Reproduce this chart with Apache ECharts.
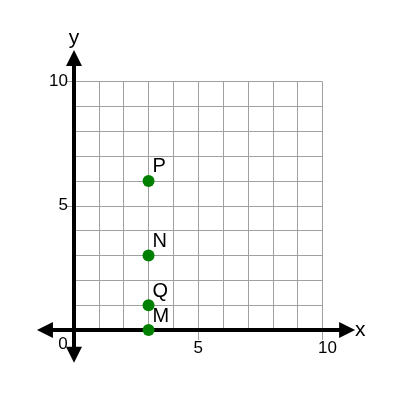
<!DOCTYPE html>
<html lang="en">
<head>
	<meta charset="UTF-8">
	<title>points</title>
	<style>
		html, body { margin: 0; padding: 0; background: #fff; }
	</style>
</head>
<body>
	<div id="main" style="width: 400px;height: 400px"></div>
	<script src="https://cdn.jsdelivr.net/npm/echarts@6/dist/echarts.min.js"></script>
	<script>
		// points on the plane
		var pointNames = ['P', 'N', 'Q', 'M'];
		var pointX = [3, 3, 3, 3];
		var pointY = [6, 3, 1, 0];
		// tick labels shown on both axes
		var labelTicks = [0, 5, 10];
		var axisRange = [0, 10];

		// layout: pixel position of the origin and size of one unit
		var unit = 24.85;
		var ox = 74, oy = 330;
		var arrowLo = -1.17, arrowHiX = 10.99, arrowLoY = -1.0, arrowHiY = 10.95;

		var font = 'Liberation Sans';

		var scatterData = pointNames.map(function (n, i) {
			return { name: n, value: [pointX[i], pointY[i]] };
		});

		function tickLabel(v) {
			if (labelTicks.indexOf(v) < 0) return '';
			if (v === 0) return '{z|0}';
			if (v === 10) return '{t|10}';
			return String(v);
		}

		var myChart = echarts.init(document.getElementById('main'));
		var option = {
			animation: false,
			grid: [
				{ // lattice
					left: ox, top: oy - axisRange[1] * unit,
					width: axisRange[1] * unit, height: axisRange[1] * unit
				},
				{ // black arrowed axes
					left: ox + arrowLo * unit, top: oy - arrowHiY * unit,
					width: (arrowHiX - arrowLo) * unit, height: (arrowHiY - arrowLoY) * unit
				}
			],
			xAxis: [
				{
					gridIndex: 0, type: 'value', position: 'top',
					min: axisRange[0], max: axisRange[1], interval: 1,
					axisLine: { show: false }, axisTick: { show: false }, axisLabel: { show: false },
					splitLine: { lineStyle: { color: '#a0a0a0', width: 1 } }
				},
				{
					gridIndex: 0, type: 'value', position: 'bottom',
					min: axisRange[0], max: axisRange[1], interval: 5,
					axisLine: { show: false },
					axisTick: { show: true, length: 10, lineStyle: { color: '#a0a0a0' } },
					splitLine: { show: false },
					axisLabel: {
						margin: 10, color: '#000', fontFamily: font, fontSize: 17,
						formatter: tickLabel,
						rich: {
							z: { fontFamily: font, fontSize: 17, color: '#000', lineHeight: 9, padding: [0, 22, 0, 0] },
							t: { fontFamily: font, fontSize: 17, color: '#000', padding: [0, 0, 0, 10] }
						}
					}
				},
				{
					gridIndex: 1, type: 'value',
					min: arrowLo, max: arrowHiX,
					axisLine: {
						onZero: true, symbol: ['triangle', 'triangle'], symbolSize: [16, 16],
						lineStyle: { color: '#000', width: 4 }
					},
					axisTick: { show: false }, axisLabel: { show: false }, splitLine: { show: false },
					name: 'x', nameLocation: 'end', nameGap: 8,
					nameTextStyle: { fontFamily: font, fontSize: 21, color: '#000' },
					z: 3
				}
			],
			yAxis: [
				{
					gridIndex: 0, type: 'value', position: 'right',
					min: axisRange[0], max: axisRange[1], interval: 1,
					axisLine: { show: false }, axisTick: { show: false }, axisLabel: { show: false },
					splitLine: { lineStyle: { color: '#a0a0a0', width: 1 } }
				},
				{
					gridIndex: 0, type: 'value', position: 'left',
					min: axisRange[0], max: axisRange[1], interval: 5,
					axisLine: { show: false },
					axisTick: { show: true, length: 7, lineStyle: { color: '#a0a0a0' } },
					splitLine: { show: false },
					axisLabel: {
						margin: 6, color: '#000', fontFamily: font, fontSize: 17,
						formatter: function (v) { return v === 0 ? '' : String(v); }
					}
				},
				{
					gridIndex: 1, type: 'value',
					min: arrowLoY, max: arrowHiY,
					axisLine: {
						onZero: true, symbol: ['triangle', 'triangle'], symbolSize: [16, 16],
						lineStyle: { color: '#000', width: 4 }
					},
					axisTick: { show: false }, axisLabel: { show: false }, splitLine: { show: false },
					name: 'y', nameLocation: 'end', nameGap: 9,
					nameTextStyle: { fontFamily: font, fontSize: 21, color: '#000' },
					z: 3
				}
			],
			series: [{
				type: 'scatter',
				xAxisIndex: 0, yAxisIndex: 0,
				data: scatterData,
				symbolSize: 12,
				itemStyle: { color: '#008000', opacity: 1 },
				label: {
					show: true, position: [10, -18],
					formatter: '{b}', fontFamily: font, fontSize: 20, color: '#000'
				},
				z: 5
			}]
		};
		myChart.setOption(option);
	</script>
</body>
</html>
